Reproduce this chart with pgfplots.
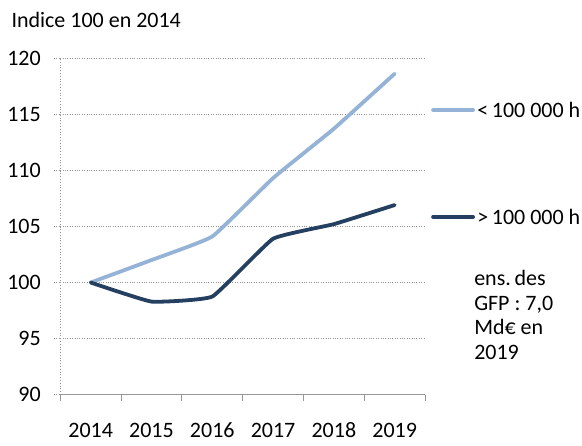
\documentclass[border=0pt]{standalone}
\usepackage{pgfplots}
\pgfplotsset{compat=1.18}
\usepackage{fontspec}
\setmainfont{Carlito}
\definecolor{lightblue}{RGB}{149,179,215}
\definecolor{darkblue}{RGB}{36,63,96}
\definecolor{gridgray}{RGB}{150,150,150}
\begin{document}
\fontsize{22bp}{24.7bp}\selectfont
\begin{tikzpicture}[x=1bp,y=1bp]
\path (0,0) rectangle (582,436);
\begin{axis}[
  at={(60bp,41bp)}, anchor=south west,
  scale only axis, width=365bp, height=337bp,
  xmin=-0.5, xmax=5.5, ymin=90, ymax=120,
  xtick={0,...,5},
  xticklabels={2014,2015,2016,2017,2018,2019},
  minor xtick={-0.5,0.5,1.5,2.5,3.5,4.5,5.5},
  ytick={90,95,...,120},
  ymajorgrids,
  major grid style={gridgray, dotted, line width=0.8bp},
  axis x line*=bottom, axis y line*=left,
  x axis line style={gridgray, line width=0.8bp, -},
  y axis line style={gridgray, dotted, line width=0.8bp, -},
  tick align=outside,
  major x tick style={draw=none},
  minor x tick style={gridgray, line width=0.8bp},
  minor tick length=6bp,
  major y tick style={gridgray, dotted, line width=0.8bp},
  major tick length=6bp,
  xticklabel style={anchor=base, yshift=-37bp},
  yticklabel style={xshift=-6bp},
  tick label style={font=\fontsize{22bp}{24.7bp}\selectfont},
  /pgf/number format/assume math mode=true,
  clip=false,
]
\addplot[lightblue, line width=3.8bp, line join=round, line cap=round, smooth, tension=0.2] coordinates {
  (0,100) (1,102.0) (2,104.1) (3,109.3) (4,113.7) (5,118.6)};
\addplot[darkblue, line width=3.8bp, line join=round, line cap=round, smooth, tension=0.2] coordinates {
  (0,100) (1,98.3) (2,98.75) (3,103.9) (4,105.2) (5,106.9)};
\end{axis}
\node[anchor=west, inner sep=0] at (11,416) {Indice 100 en 2014};
\draw[lightblue, line width=3.8bp, line cap=round] (433,326) -- (473,326);
\node[anchor=west, inner sep=0] at (477,326) {<\,100 000 h};
\draw[darkblue, line width=3.8bp, line cap=round] (433,219) -- (473,219);
\node[anchor=west, inner sep=0] at (477,219) {>\,100 000 h};
\node[anchor=north west, inner sep=0, align=left] at (474,166) {ens.\,des\\GFP : 7,0\\Md€ en\\2019};
\end{tikzpicture}
\end{document}
